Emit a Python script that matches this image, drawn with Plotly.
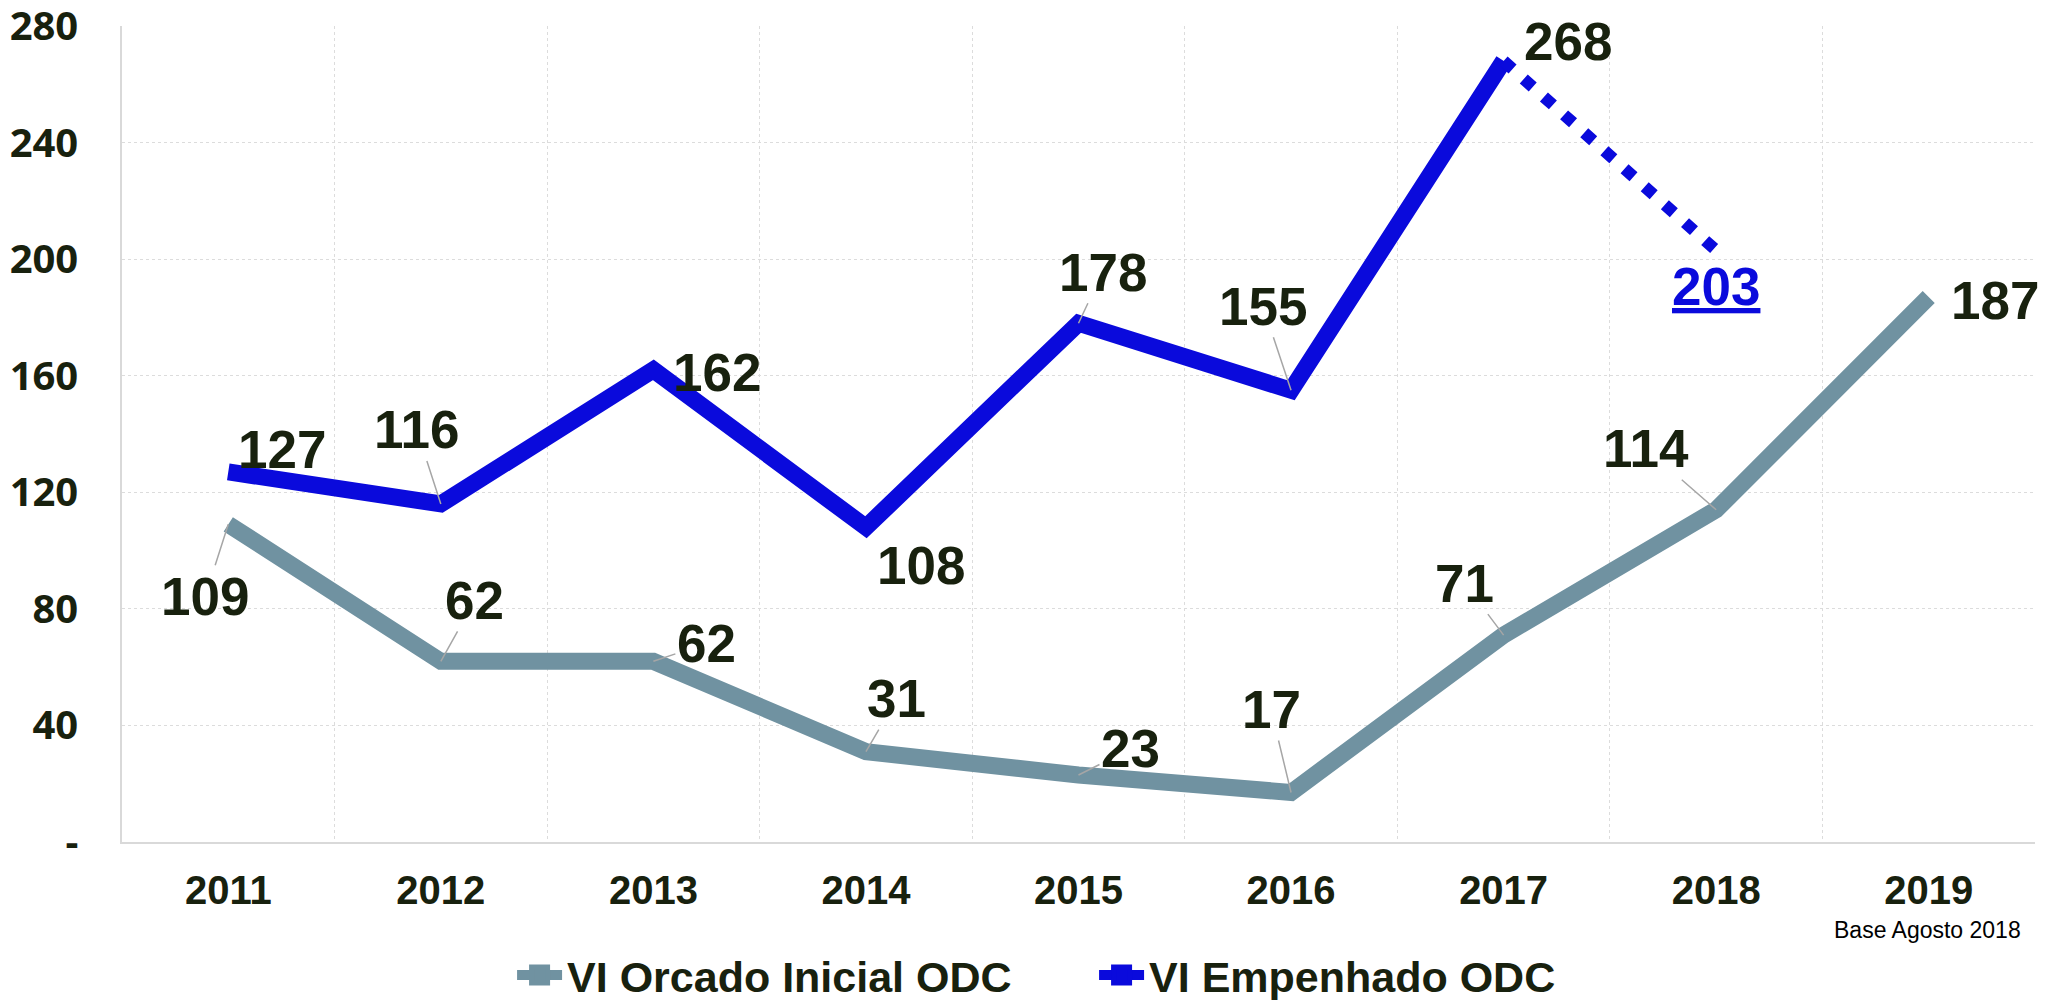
import plotly.graph_objects as go

# ---- data ----
years = ["2011", "2012", "2013", "2014", "2015", "2016", "2017", "2018", "2019"]
orcado = [109, 62, 62, 31, 23, 17, 71, 114, 187]
empenhado_years = ["2011", "2012", "2013", "2014", "2015", "2016", "2017"]
empenhado = [127, 116, 162, 108, 178, 155, 268]
estimate_years = ["2017", "2018"]
estimate = [268, 203]
y_ticks = [0, 40, 80, 120, 160, 200, 240, 280]
y_ticktext = ["-", "40", "80", "120", "160", "200", "240", "280"]

# ---- style ----
GRAY = "#7092a1"
BLUE = "#0a0adc"
TXT = "#18210e"
LEADER = "#a6a6a6"
GRID = "#dcdcdc"

fig = go.Figure()
fig.add_trace(go.Scatter(x=years, y=orcado, mode="lines", name="VI Orcado Inicial ODC",
                         line=dict(color=GRAY, width=17), hoverinfo="skip", showlegend=False))
fig.add_trace(go.Scatter(x=empenhado_years, y=empenhado, mode="lines", name="VI Empenhado ODC",
                         line=dict(color=BLUE, width=17), hoverinfo="skip", showlegend=False))
fig.add_trace(go.Scatter(x=estimate_years, y=estimate, mode="lines", showlegend=False,
                         line=dict(color=BLUE, width=12, dash="12px,15px"), hoverinfo="skip"))
# legend entries
for nm, col in [("VI Orcado Inicial ODC", GRAY), ("VI Empenhado ODC", BLUE)]:
    fig.add_trace(go.Scatter(x=[None], y=[None], mode="lines+markers", name=nm,
                             line=dict(color=col, width=17),
                             marker=dict(symbol="square", size=16, color=col,
                                         line=dict(width=5, color=col))))

label_font = dict(family="Liberation Sans, Arial, sans-serif", size=53, color=TXT, weight="bold")

# label offsets (pixels) and whether a leader line is drawn
orc_offsets = [(-23, 72, True), (34, -61, True), (53, -18, True), (31, -53, True), (52, -26, True),
               (-20, -83, True), (-39, -52, True), (-70, -61, True), (66, 3, False)]
emp_offsets = [(54, -22, False), (-24, -74, True), (64, 3, False), (55, 38, False), (24, -51, True),
               (-28, -84, True), (64, -19, False)]

annotations = []
for xv, yv, (dx, dy, lead) in zip(years, orcado, orc_offsets):
    annotations.append(dict(x=years.index(xv), y=yv, text=str(yv), showarrow=True, ax=dx, ay=dy,
                            arrowhead=0, arrowwidth=1.5,
                            arrowcolor=LEADER if lead else "rgba(0,0,0,0)",
                            font=label_font))
for xv, yv, (dx, dy, lead) in zip(empenhado_years, empenhado, emp_offsets):
    annotations.append(dict(x=years.index(xv), y=yv, text=str(yv), showarrow=True, ax=dx, ay=dy,
                            arrowhead=0, arrowwidth=1.5,
                            arrowcolor=LEADER if lead else "rgba(0,0,0,0)",
                            font=label_font))
annotations.append(dict(x=years.index(estimate_years[1]), y=estimate[1], text="<u>%d</u>" % estimate[1],
                        showarrow=True, ax=0, ay=36, arrowcolor="rgba(0,0,0,0)",
                        font=dict(family="Liberation Sans, Arial, sans-serif", size=53,
                                  color=BLUE, weight="bold")))
annotations.append(dict(xref="paper", yref="paper", x=0.9937, y=-0.108, xanchor="right",
                        yanchor="middle", showarrow=False, text="Base Agosto 2018",
                        font=dict(family="Liberation Sans, Arial, sans-serif", size=23, color="black")))

fig.update_layout(
    width=2069, height=1000,
    margin=dict(l=122, r=34, t=26, b=158, autoexpand=False),
    plot_bgcolor="white", paper_bgcolor="white",
    annotations=annotations,
    showlegend=True,
    legend=dict(orientation="h", xref="container", yref="container", x=0.2475, y=0.025,
                xanchor="left", yanchor="middle", itemwidth=45, entrywidth=522,
                font=dict(family="Liberation Sans, Arial, sans-serif",
                          size=43, color=TXT, weight="bold"),
                bgcolor="rgba(0,0,0,0)"),
    xaxis=dict(type="category", range=[-0.5, 8.5], tickson="boundaries", showgrid=True,
               gridcolor=GRID, griddash="dot", gridwidth=1, showline=True, linecolor="#d9d9d9",
               linewidth=1.5, ticks="", ticklabelstandoff=12, automargin=False,
               tickfont=dict(family="Liberation Sans, Arial, sans-serif", size=40, color=TXT, weight="bold")),
    yaxis=dict(range=[0, 280], tickvals=y_ticks, ticktext=y_ticktext, showgrid=True,
               gridcolor=GRID, griddash="dot", gridwidth=1, zeroline=False, showline=True,
               linecolor="#d9d9d9", linewidth=1.5, ticks="", ticklabelstandoff=34,
               ticklabeloverflow="allow", automargin=False,
               tickfont=dict(family="Open Sans, sans-serif", size=40, color=TXT, weight="bold")),
)

fig.write_html("out.html", config={"displayModeBar": False},
               post_script="document.body.style.margin='0';")
